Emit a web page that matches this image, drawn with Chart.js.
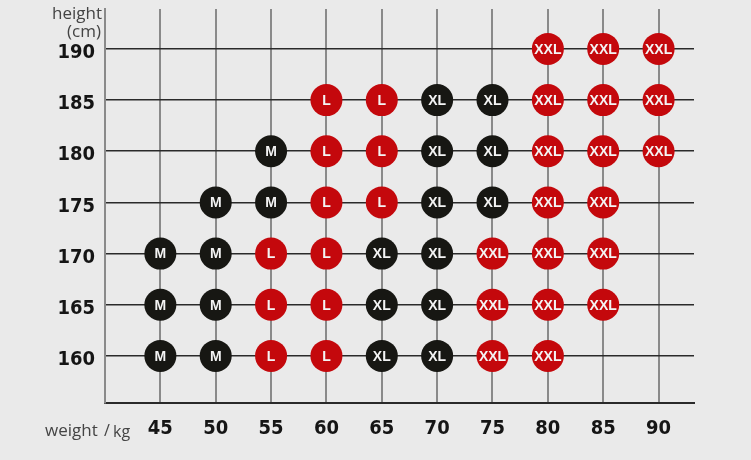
<!DOCTYPE html>
<html>
<head>
<meta charset="utf-8">
<script src="https://cdn.jsdelivr.net/npm/chart.js@4"></script>
<style>
  html, body { margin: 0; padding: 0; background: #eaeaea; }
  #wrap { width: 751px; height: 460px; position: relative; }
</style>
</head>
<body>
<div id="wrap"><canvas id="chart"></canvas></div>
<script>
// 数据
const weights = [45, 50, 55, 60, 65, 70, 75, 80, 85, 90];
const heights = [160, 165, 170, 175, 180, 185, 190];
// 每一行对应一个身高，'' 表示没有尺码
const size160 = ['M', 'M', 'L', 'L', 'XL', 'XL', 'XXL', 'XXL', '', ''];
const size165 = ['M', 'M', 'L', 'L', 'XL', 'XL', 'XXL', 'XXL', 'XXL', ''];
const size170 = ['M', 'M', 'L', 'L', 'XL', 'XL', 'XXL', 'XXL', 'XXL', ''];
const size175 = ['', 'M', 'M', 'L', 'L', 'XL', 'XL', 'XXL', 'XXL', ''];
const size180 = ['', '', 'M', 'L', 'L', 'XL', 'XL', 'XXL', 'XXL', 'XXL'];
const size185 = ['', '', '', 'L', 'L', 'XL', 'XL', 'XXL', 'XXL', 'XXL'];
const size190 = ['', '', '', '', '', '', '', 'XXL', 'XXL', 'XXL'];
const sizeRows = [size160, size165, size170, size175, size180, size185, size190];

const redSizes = ['L', 'XXL'];
const RED = '#c4080c';
const BLACK = '#171713';

// 拆成红色和黑色两组点
const redPoints = [];
const blackPoints = [];
sizeRows.forEach((row, r) => {
    row.forEach((size, c) => {
        if (!size) return;
        const p = { x: weights[c], y: heights[r], size: size };
        (redSizes.includes(size) ? redPoints : blackPoints).push(p);
    });
});

const tickFont = { family: '"DejaVu Sans Condensed", "Liberation Sans Narrow", sans-serif', size: 20, weight: 'bold' };

// 圆点里的尺码文字 + 轴标题
const labelPlugin = {
    id: 'sizeLabels',
    afterDatasetsDraw(chart) {
        const ctx = chart.ctx;
        ctx.save();
        ctx.fillStyle = '#f4f4f4';
        ctx.textAlign = 'center';
        ctx.textBaseline = 'middle';
        ctx.font = 'bold 14px "Liberation Sans", Arial, sans-serif';
        chart.data.datasets.forEach((ds, i) => {
            const meta = chart.getDatasetMeta(i);
            meta.data.forEach((el, j) => {
                ctx.fillText(ds.data[j].size, el.x, el.y + 1);
            });
        });
        ctx.restore();
    },
    afterDraw(chart) {
        const ctx = chart.ctx;
        ctx.save();
        ctx.fillStyle = '#444';
        ctx.font = '17px "Open Sans", sans-serif';
        ctx.textAlign = 'right';
        ctx.textBaseline = 'middle';
        ctx.fillText('height', 102, 14);
        ctx.fillText('(cm)', 101, 32);
        ctx.textAlign = 'left';
        ctx.fillText('weight', 45, 431);
        ctx.font = '16px "Open Sans", sans-serif';
        ctx.fillText('/', 104, 431);
        ctx.fillText('kg', 113, 432);
        ctx.restore();
    }
};

const ctx = document.getElementById('chart').getContext('2d');
new Chart(ctx, {
    type: 'scatter',
    data: {
        datasets: [
            { label: 'red', data: redPoints, backgroundColor: RED, borderWidth: 0, pointRadius: 16, pointHoverRadius: 16 },
            { label: 'black', data: blackPoints, backgroundColor: BLACK, borderWidth: 0, pointRadius: 16, pointHoverRadius: 16 }
        ]
    },
    options: {
        responsive: true,
        maintainAspectRatio: false,
        animation: false,
        layout: { autoPadding: false, padding: { top: 9, right: 57, left: 0, bottom: 0 } },
        scales: {
            x: {
                type: 'linear',
                min: 40,
                max: 93.2,
                afterBuildTicks: (scale) => { scale.ticks = weights.map(v => ({ value: v })); },
                afterFit: (scale) => { scale.height = 57; scale.paddingLeft = 0; scale.paddingRight = 0; },
                grid: { color: '#8a8a8a', lineWidth: 2, drawTicks: false },
                border: { color: '#2a2a2a', width: 2 },
                ticks: { color: '#151515', font: tickFont, padding: 14 }
            },
            y: {
                type: 'linear',
                min: 155.4,
                max: 193.9,
                afterBuildTicks: (scale) => { scale.ticks = heights.map(v => ({ value: v })); },
                afterFit: (scale) => { scale.width = 105; scale.paddingTop = 0; scale.paddingBottom = 0; },
                grid: { color: '#2a2a2a', lineWidth: 1.5, drawTicks: false },
                border: { color: '#8a8a8a', width: 2 },
                ticks: { color: '#151515', font: tickFont, padding: 10, labelOffset: 4 }
            }
        },
        plugins: {
            legend: { display: false },
            tooltip: { enabled: false }
        }
    },
    plugins: [labelPlugin]
});
</script>
</body>
</html>
